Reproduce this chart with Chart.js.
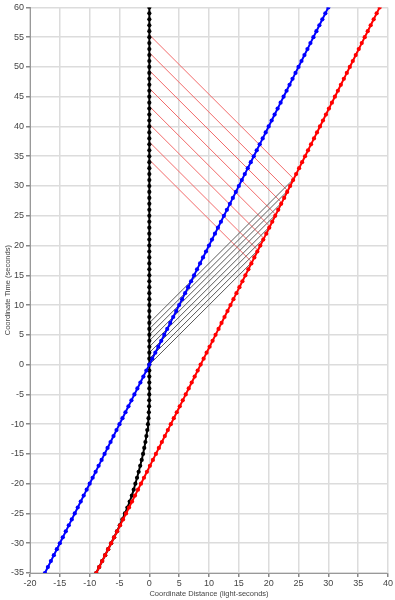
<!DOCTYPE html>
<html>
<head>
<meta charset="utf-8">
<script src="https://cdn.jsdelivr.net/npm/chart.js@4/dist/chart.umd.min.js"></script>
<style>
  html, body { margin: 0; padding: 0; background: #fff; }
  #wrap { width: 395px; height: 600px; }
</style>
</head>
<body>
<div id="wrap"><canvas id="chart" width="395" height="600"></canvas></div>
<script>
// Coordinate time of each marker (seconds)
const times = [
  -35,-34,-33,-32,-31,-30,-29,-28,-27,-26,-25,-24,-23,-22,-21,-20,-19,-18,-17,-16,
  -15,-14,-13,-12,-11,-10,-9,-8,-7,-6,-5,-4,-3,-2,-1,0,1,2,3,4,
  5,6,7,8,9,10,11,12,13,14,15,16,17,18,19,20,21,22,23,24,
  25,26,27,28,29,30,31,32,33,34,35,36,37,38,39,40,41,42,43,44,
  45,46,47,48,49,50,51,52,53,54,55,56,57,58,59,60
];

// Black worldline (light-seconds)
const blackX = [
  -8.9,-8.4,-7.9,-7.4,-6.9,-6.4,-5.9,-5.42,-4.96,-4.52,-4.09,-3.68,-3.29,-2.93,-2.62,-2.34,-2.06,-1.79,-1.53,-1.28,
  -1.05,-0.85,-0.66,-0.49,-0.35,-0.23,-0.14,-0.08,-0.04,-0.02,-0.01,0,0,0,0,0,0,0,0,0,
  0,0,0,0,0,0,0,0,0,0,0,0,0,0,0,0,0,0,0,0,
  0,0,0,0,0,0,0,0,0,0,0,0,0,0,0,0,0,0,0,0,
  0,0,0,0,0,0,0,0,0,0,0,0,0,0,0,0
];

// Blue worldline
const blueX = [
  -17.5,-17,-16.5,-16,-15.5,-15,-14.5,-14,-13.5,-13,-12.5,-12,-11.5,-11,-10.5,-10,-9.5,-9,-8.5,-8,
  -7.5,-7,-6.5,-6,-5.5,-5,-4.5,-4,-3.5,-3,-2.5,-2,-1.5,-1,-0.5,0,0.5,1,1.5,2,
  2.5,3,3.5,4,4.5,5,5.5,6,6.5,7,7.5,8,8.5,9,9.5,10,10.5,11,11.5,12,
  12.5,13,13.5,14,14.5,15,15.5,16,16.5,17,17.5,18,18.5,19,19.5,20,20.5,21,21.5,22,
  22.5,23,23.5,24,24.5,25,25.5,26,26.5,27,27.5,28,28.5,29,29.5,30
];

// Red worldline
const redX = [
  -8.9,-8.4,-7.9,-7.4,-6.9,-6.4,-5.9,-5.4,-4.9,-4.4,-3.9,-3.4,-2.9,-2.4,-1.9,-1.4,-0.9,-0.4,0.1,0.6,
  1.1,1.6,2.1,2.6,3.1,3.6,4.1,4.6,5.1,5.6,6.1,6.6,7.1,7.6,8.1,8.6,9.1,9.6,10.1,10.6,
  11.1,11.6,12.1,12.6,13.1,13.6,14.1,14.6,15.1,15.6,16.1,16.6,17.1,17.6,18.1,18.6,19.1,19.6,20.1,20.6,
  21.1,21.6,22.1,22.6,23.1,23.6,24.1,24.6,25.1,25.6,26.1,26.6,27.1,27.6,28.1,28.6,29.1,29.6,30.1,30.6,
  31.1,31.6,32.1,32.6,33.1,33.6,34.1,34.6,35.1,35.6,36.1,36.6,37.1,37.6,38.1,38.6
];

// Light signals: sent from black (x = 0), bounced off red, back to black
const emitT = [0, 1, 2, 3, 4, 5, 6, 7];
const bounceX = [17.2, 18.2, 19.2, 20.2, 21.2, 22.2, 23.2, 24.2];
const bounceT = [17.2, 19.2, 21.2, 23.2, 25.2, 27.2, 29.2, 31.2];
const returnT = [34.4, 37.4, 40.4, 43.4, 46.4, 49.4, 52.4, 55.4];

// Axis ticks
const xTicks = [-20, -15, -10, -5, 0, 5, 10, 15, 20, 25, 30, 35, 40];
const yTicks = [-35, -30, -25, -20, -15, -10, -5, 0, 5, 10, 15, 20, 25, 30, 35, 40, 45, 50, 55, 60];

function toPoints(xs, ts) {
  return xs.map((x, i) => ({ x: x, y: ts[i] }));
}

function worldline(xs, color, order) {
  return {
    data: toPoints(xs, times),
    showLine: true,
    borderColor: color,
    backgroundColor: color,
    borderWidth: 2,
    pointRadius: 2.1,
    pointBorderWidth: 0,
    order: order
  };
}

function signal(points, color, order) {
  return {
    data: points,
    showLine: true,
    borderColor: color,
    backgroundColor: color,
    borderWidth: 1,
    pointRadius: 0,
    order: order
  };
}

const datasets = [
  worldline(redX, '#ff0000', 1),
  worldline(blueX, '#0000ff', 2),
  worldline(blackX, '#000000', 3)
];

// Outgoing (black) and returning (red) signal lines
emitT.forEach((t0, i) => {
  datasets.push(signal([{ x: 0, y: t0 }, { x: bounceX[i], y: bounceT[i] }], '#5a5a5a', 10));
  datasets.push(signal([{ x: bounceX[i], y: bounceT[i] }, { x: 0, y: returnT[i] }], '#f26a6a', 11));
});

const tickFont = { family: 'Liberation Sans', size: 9 };
const titleFont = { family: 'Liberation Sans', size: 7.5 };

new Chart(document.getElementById('chart'), {
  type: 'scatter',
  data: { datasets: datasets },
  options: {
    responsive: false,
    animation: false,
    layout: { padding: { top: 5, right: 7, left: 0, bottom: 0 } },
    plugins: {
      legend: { display: false },
      tooltip: { enabled: false }
    },
    scales: {
      x: {
        type: 'linear',
        min: -20,
        max: 40,
        afterBuildTicks: function(scale) {
          scale.ticks = xTicks.map(v => ({ value: v }));
        },
        afterFit: function(scale) { scale.height = 27; },
        grid: { color: '#dcdcdc', lineWidth: 1.5, tickLength: 4, tickColor: '#888' },
        border: { color: '#999' },
        ticks: { color: '#444', font: tickFont, padding: 1, maxRotation: 0 },
        title: {
          display: true,
          text: 'Coordinate Distance (light-seconds)',
          color: '#444',
          font: titleFont,
          padding: { top: 0, bottom: 2 }
        }
      },
      y: {
        type: 'linear',
        min: -35,
        max: 60,
        afterBuildTicks: function(scale) {
          scale.ticks = yTicks.map(v => ({ value: v }));
        },
        afterFit: function(scale) { scale.width = 30; },
        grid: { color: '#dcdcdc', lineWidth: 1.5, tickLength: 4, tickColor: '#888' },
        border: { color: '#999' },
        ticks: { color: '#444', font: tickFont, padding: 2 },
        title: {
          display: true,
          text: 'Coordinate Time (seconds)',
          color: '#444',
          font: titleFont,
          padding: { top: 3, bottom: 0 }
        }
      }
    }
  }
});
</script>
</body>
</html>
